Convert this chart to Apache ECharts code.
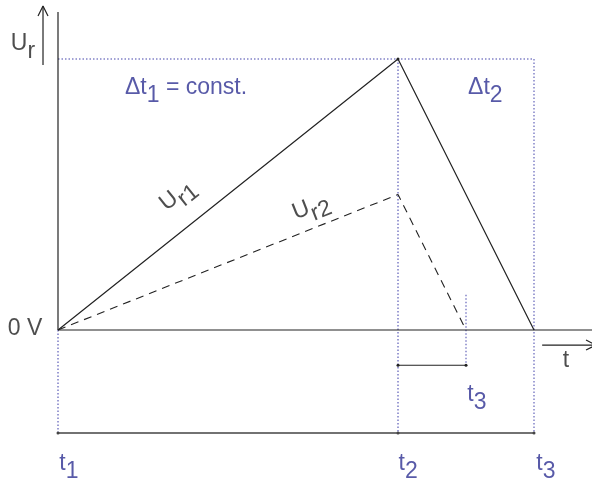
<!DOCTYPE html>
<html>
<head>
<meta charset="utf-8">
<script src="https://cdn.jsdelivr.net/npm/echarts@6/dist/echarts.min.js"></script>
<style>
  html, body { margin: 0; padding: 0; background: #fff; }
  #chart { width: 594px; height: 479px; }
</style>
</head>
<body>
<div id="chart"></div>
<script>
  /* time marks (arbitrary units) */
  var tMarks = [0, 10, 14];          // t1, t2, t3
  var t3Short = 12;                  // t3 of the second ramp
  /* voltage ramps */
  var ur1 = [[0, 0], [10, 2], [14, 0]];
  var ur2 = [[0, 0], [10, 1], [12, 0]];
  var bottomY = -0.76;               // level of the t1..t3 line
  var stepY = -0.26;                 // level of the short t2..t3 line

  var dark = '#222222';
  var blue = '#3a3aa8';
  var lightBlue = '#8383c8';
  var textBlue = '#2e3192';
  var font = 'Liberation Sans';

  function seg(data, color, width, type, sym) {
    return {
      type: 'line', data: data, silent: true, clip: false,
      symbol: sym ? 'circle' : 'none', symbolSize: 3,
      itemStyle: { color: color },
      lineStyle: { color: color, width: width, type: type || 'solid' }
    };
  }

  var rich = {
    a: { fontSize: 23, fontFamily: font, verticalAlign: 'top', lineHeight: 26 },
    s: { fontSize: 23, fontFamily: font, verticalAlign: 'top', lineHeight: 26, padding: [8, 0, 0, 0] }
  };
  function label(x, y, text, color, rot, align) {
    return {
      value: [x, y],
      label: {
        show: true, position: 'inside', formatter: text, color: color,
        rotate: rot || 0, align: align || 'center', verticalAlign: 'middle',
        rich: {
          a: Object.assign({}, rich.a, { color: color }),
          s: Object.assign({}, rich.s, { color: color })
        }
      }
    };
  }

  var labels = [
    label(-1.03, 2.10, '{a|U}{s|r}', dark),
    label(-0.97, 0.0, '{a|0 V}', dark),
    label(1.97, 1.775, '{a|Δt}{s|1}{a| = const.}', textBlue, 0, 'left'),
    label(12.57, 1.775, '{a|Δt}{s|2}', textBlue),
    label(14.94, -0.24, '{a|t}', dark),
    label(3.53, 0.99, '{a|U}{s|r1}', dark, 38.6),
    label(7.45, 0.90, '{a|U}{s|r2}', dark, 21.7),
    label(t3Short + 0.32, -0.49, '{a|t}{s|3}', textBlue),
    label(tMarks[0] + 0.32, -1.0, '{a|t}{s|1}', textBlue),
    label(tMarks[1] + 0.3, -1.0, '{a|t}{s|2}', textBlue),
    label(tMarks[2] + 0.35, -1.0, '{a|t}{s|3}', textBlue)
  ];

  var chart = echarts.init(document.getElementById('chart'));
  chart.setOption({
    animation: false,
    grid: { left: 7, top: 4.8, width: 583, height: 460.7, outerBoundsMode: 'none' },
    xAxis: { type: 'value', min: -1.5, max: -1.5 + 583 / 34, show: false },
    yAxis: { type: 'value', min: -1, max: 2.4, show: false },
    series: [
      // guides
      seg([[tMarks[0], ur1[1][1]], [tMarks[2], ur1[1][1]]], lightBlue, 1.5, [1.5, 2]),
      seg([[tMarks[0], 0], [tMarks[0], bottomY]], blue, 1, [1.5, 2]),
      seg([[tMarks[1], ur1[1][1]], [tMarks[1], bottomY]], blue, 1, [1.5, 2]),
      seg([[tMarks[2], ur1[1][1]], [tMarks[2], bottomY]], lightBlue, 1.5, [1.5, 2]),
      seg([[t3Short, -stepY], [t3Short, stepY]], lightBlue, 1.5, [1.5, 2]),
      // axes
      seg([[0, 0], [0, 2.347]], dark, 1.2),
      seg([[0, 0], [16, 0]], dark, 1.2),
      seg([[-0.441, 1.956], [-0.441, 2.391]], dark, 1.2),
      seg([[-0.588, 2.317], [-0.441, 2.391], [-0.294, 2.317]], dark, 1.2),
      seg([[14.24, -0.111], [15.82, -0.111]], dark, 1.2),
      seg([[15.53, -0.074], [15.82, -0.111], [15.53, -0.148]], dark, 1.2),
      // time spans
      seg([[tMarks[1], stepY], [t3Short, stepY]], dark, 1.2, 'solid', true),
      seg(tMarks.map(function (t) { return [t, bottomY]; }), '#444444', 1.5, 'solid', true),
      // ramps
      seg(ur1, dark, 1.2),
      seg([ur1[1]], dark, 1, 'solid', true),
      seg(ur2, dark, 1.1, [8, 6]),
      // text
      { type: 'scatter', symbolSize: 0, silent: true, clip: false, data: labels }
    ]
  });
</script>
</body>
</html>
